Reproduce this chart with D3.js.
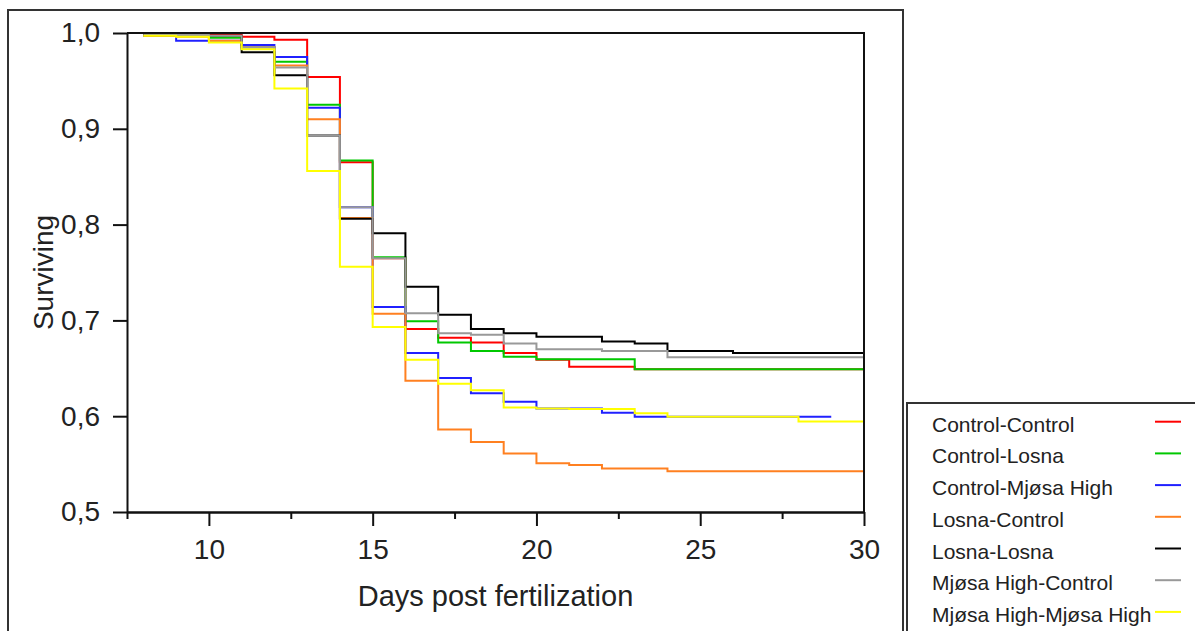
<!DOCTYPE html>
<html>
<head>
<meta charset="utf-8">
<script src="https://cdn.jsdelivr.net/npm/d3@7"></script>
<style>
  html, body { margin: 0; padding: 0; background: #fff; }
  svg { display: block; font-family: "Liberation Sans", Arial, sans-serif; }
</style>
</head>
<body>
<svg id="chart" width="1195" height="631"></svg>
<script>
// survival steps: value for the interval that starts at each day (day 8 onwards)
const startDay = 8;
const endDay = 30;
const seriesNames = ["Control-Control", "Control-Losna", "Control-Mjøsa High", "Losna-Control",
                     "Losna-Losna", "Mjøsa High-Control", "Mjøsa High-Mjøsa High"];
const seriesColors = ["#ff0000", "#00c800", "#2020ff", "#ff8020", "#000000", "#999999", "#ffff00"];

const controlControl = [.998, .998, .998, .996, .993, .954, .865, .765, .691, .682, .677, .666, .659, .6515, .6515, .649, .649, .649, .649, .649, .649, .649];
const controlLosna = [.997, .997, .995, .985, .970, .925, .867, .766, .699, .677, .668, .662, .6595, .6595, .6595, .649, .649, .649, .649, .649, .649, .649];
const controlMjosa = [.997, .992, .992, .9875, .975, .922, .818, .714, .666, .640, .624, .615, .608, .608, .6037, .5995, .5995, .5995, .5995, .5995, .5995];
const losnaControl = [.997, .996, .992, .985, .966, .910, .807, .707, .637, .586, .573, .561, .551, .549, .5455, .5455, .5425, .5425, .5425, .5425, .5425, .5425];
const losnaLosna = [.998, .998, .997, .980, .956, .893, .806, .791, .735, .706, .691, .6865, .683, .683, .678, .676, .668, .668, .666, .666, .666, .666];
const mjosaControl = [.998, .998, .997, .985, .964, .893, .818, .765, .7075, .6865, .685, .676, .670, .670, .668, .668, .6615, .6615, .6615, .6615, .6615, .6615];
const mjosaMjosa = [.997, .996, .990, .983, .942, .856, .756, .693, .659, .634, .627, .609, .608, .6075, .6075, .603, .5995, .5995, .5995, .5995, .5945, .5945];

// last day each curve is followed to
const seriesEnd = [30, 30, 29, 30, 30, 30, 30];

const yTicks = [0.5, 0.6, 0.7, 0.8, 0.9, 1.0];
const xTicks = [10, 15, 20, 25, 30];
const xMinorTicks = [7.5, 12.5, 17.5, 22.5, 27.5];

const allValues = [controlControl, controlLosna, controlMjosa, losnaControl, losnaLosna, mjosaControl, mjosaMjosa];

const plot = { left: 127, right: 864, top: 33, bottom: 512 };

const svg = d3.select("#chart");

// outer frame
svg.append("rect")
    .attr("x", 8).attr("y", 10)
    .attr("width", 895).attr("height", 660)
    .attr("fill", "none").attr("stroke", "#333").attr("stroke-width", 2);

const x = d3.scaleLinear().domain([7.5, endDay]).range([plot.left, plot.right]);
const y = d3.scaleLinear().domain([0.5, 1.0]).range([plot.bottom, plot.top]);

const comma = v => d3.format(".1f")(v).replace(".", ",");

// curves
const line = d3.line()
    .x(d => x(d[0]))
    .y(d => y(d[1]))
    .curve(d3.curveStepAfter);

const curves = svg.append("g");
allValues.forEach((vals, i) => {
    const pts = vals.map((v, k) => [startDay + k, v]);
    pts.push([seriesEnd[i], vals[vals.length - 1]]);
    curves.append("path")
        .attr("d", line(pts))
        .attr("fill", "none")
        .attr("stroke", seriesColors[i])
        .attr("stroke-width", 2);
});

// top and right borders of the plot
svg.append("path")
    .attr("d", `M${plot.left},${plot.top}H${plot.right}V${plot.bottom}`)
    .attr("fill", "none").attr("stroke", "#111").attr("stroke-width", 2);

// y axis
const yAxis = svg.append("g")
    .attr("transform", `translate(${plot.left},0)`)
    .call(d3.axisLeft(y).tickValues(yTicks).tickFormat(comma).tickSize(14).tickSizeOuter(0).tickPadding(13));

// x axis, minor ticks first
const xMinor = svg.append("g")
    .attr("transform", `translate(0,${plot.bottom})`)
    .call(d3.axisBottom(x).tickValues(xMinorTicks).tickFormat("").tickSize(7).tickSizeOuter(0));

const xAxis = svg.append("g")
    .attr("transform", `translate(0,${plot.bottom})`)
    .call(d3.axisBottom(x).tickValues(xTicks).tickFormat(d3.format("d")).tickSize(14).tickSizeOuter(0).tickPadding(13));

[yAxis, xMinor, xAxis].forEach(g => {
    g.selectAll("path, line").attr("stroke", "#111").attr("stroke-width", 2);
    g.selectAll("text").attr("font-size", 28).attr("fill", "#222")
        .attr("font-family", "'Liberation Sans', Arial, sans-serif");
});

// axis titles
svg.append("text")
    .attr("x", (plot.left + plot.right) / 2)
    .attr("y", 606)
    .attr("text-anchor", "middle")
    .attr("font-size", 29)
    .attr("fill", "#222")
    .text("Days post fertilization");

svg.append("text")
    .attr("transform", `translate(53,${(plot.top + plot.bottom) / 2}) rotate(-90)`)
    .attr("text-anchor", "middle")
    .attr("font-size", 28)
    .attr("fill", "#222")
    .text("Surviving");

// legend
const legend = svg.append("g");
legend.append("rect")
    .attr("x", 907).attr("y", 403)
    .attr("width", 300).attr("height", 300)
    .attr("fill", "#fff").attr("stroke", "#333").attr("stroke-width", 2);

seriesNames.forEach((name, i) => {
    const rowY = 421.7 + i * 31.7;
    legend.append("text")
        .attr("x", 932)
        .attr("y", rowY + 10)
        .attr("font-size", 21)
        .attr("fill", "#222")
        .text(name);
    legend.append("line")
        .attr("x1", 1155).attr("x2", 1181)
        .attr("y1", rowY).attr("y2", rowY)
        .attr("stroke", seriesColors[i])
        .attr("stroke-width", 2);
});
</script>
</body>
</html>
